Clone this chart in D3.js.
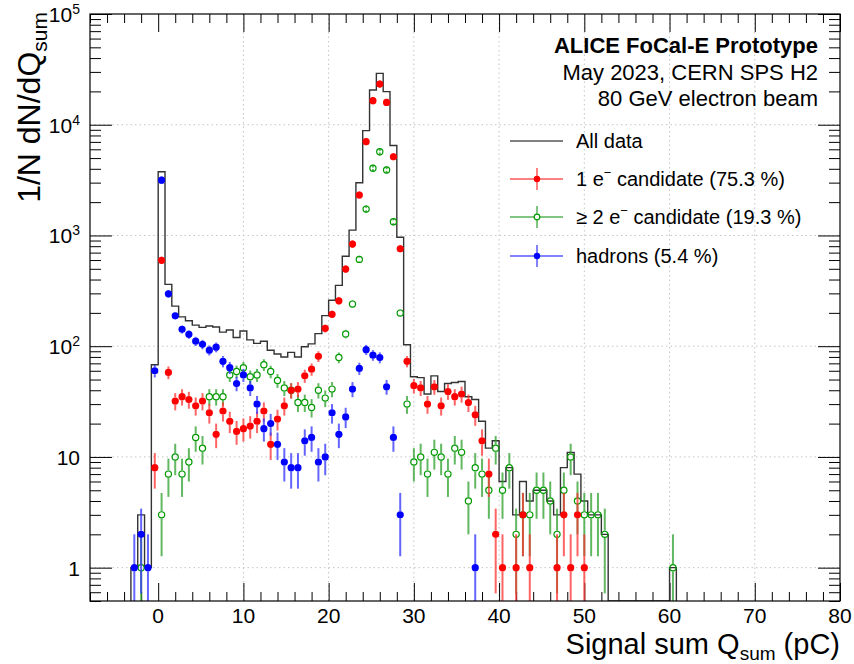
<!DOCTYPE html>
<html>
<head>
<meta charset="utf-8">
<script src="https://cdn.jsdelivr.net/npm/d3@7"></script>
<style>
  body { margin: 0; background: #fff; }
  svg { font-family: "Liberation Sans", Arial, Helvetica, sans-serif; }
</style>
</head>
<body>
<svg id="chart" width="854" height="664"></svg>
<script>
// bin centres (pC), bin width 0.8
const binWidth = 0.8
const binCenters = [-2.8,-2.0,-1.2,-0.4,0.4,1.2,2.0,2.8,3.6,4.4,5.2,6.0,6.8,7.6,8.4,9.2,10.0,10.8,11.6,12.4,
  13.2,14.0,14.8,15.6,16.4,17.2,18.0,18.8,19.6,20.4,21.2,22.0,22.8,23.6,24.4,25.2,26.0,26.8,27.6,28.4,
  29.2,30.0,30.8,31.6,32.4,33.2,34.0,34.8,35.6,36.4,37.2,38.0,38.8,39.6,40.4,41.2,42.0,42.8,43.6,44.4,
  45.2,46.0,46.8,47.6,48.4,49.2,50.0,50.8,51.6,52.4,53.2,54.0,54.8,55.6,56.4,57.2,58.0,58.8,59.6,60.4]

const allData = [1,3,1,68,3760,362,230,184,170,155,148,152,149,134,140,120,137,114,106,111,
  92,85,80,88,80,99,105,130,189,260,354,650,1118,2990,8850,20600,29100,19900,6500,965,
  103,53,52,37,54,39,46,47,48,35,33,21,12,14,6,8,3,6,4,5,
  5,4,3,8,11,7,4,3,3,2,0,0,0,0,0,0,0,0,0,1]

const oneElectron = [null,null,null,8,596,58,32,35,33,29,32,25,16,26,21,17,18,19,21,26,
  13,22,29,40,41,54,62,81,145,194,257,497,836,2320,7030,16500,23300,15900,5140,759,
  73,44,42,30,43,29,39,35,37,31,24,14,7,2,1,null,1,3,1,null,
  null,null,1,3,1,3,1,null,null,null,null,null,null,null,null,null,null,null,null,null]

const twoElectron = [null,1,null,null,3,7,10,7,9,15,12,35,35,35,55,59,64,53,55,68,
  59,49,42,40,31,31,28,40,34,41,79,129,240,608,1730,4040,5700,3900,1330,199,
  30,9,10,7,11,10,7,12,11,4,8,7,5,12,5,8,2,3,3,5,
  5,4,2,5,10,4,3,3,3,2,null,null,null,null,null,null,null,null,null,1]

const hadrons = [1,2,1,60,3160,297,188,142,128,111,104,92,98,73,64,46,55,42,30,18,
  20,13,9,8,8,14,15,9,10,25,16,23,41,63,93,83,79,43,15,3,
  null,null,null,null,null,null,null,null,null,null,1,null,null,null,null,null,null,null,null,null,
  null,null,null,null,null,null,null,null,null,null,null,null,null,null,null,null,null,null,null,null]

const xTicks = [0, 10, 20, 30, 40, 50, 60, 70, 80]
const yTicks = [1, 10, 100, 1000, 10000, 100000]
const yTickBase = ["1", "10", "10", "10", "10", "10"]
const yTickExp = ["", "", "2", "3", "4", "5"]

const legendLabels = ["All data", "1 e", "\u2265 2 e", "hadrons (5.4 %)"]

const width = 854, height = 664
const frame = { left: 90, right: 840, top: 14, bottom: 601 }

const svg = d3.select("#chart")

const x = d3.scaleLinear().domain([-8, 80]).range([frame.left, frame.right])
const y = d3.scaleLog().domain([0.5, 1e5]).range([frame.bottom, frame.top])
const yMin = y.domain()[0]

svg.append("defs").append("clipPath").attr("id", "frameClip")
  .append("rect")
    .attr("x", frame.left).attr("y", frame.top)
    .attr("width", frame.right - frame.left)
    .attr("height", frame.bottom - frame.top)

// grid
const grid = svg.append("g")
  .attr("stroke", "#c4c4c4").attr("stroke-dasharray", "1.5,3").attr("stroke-width", 1)
grid.selectAll(".gx").data(xTicks.slice(1, -1)).enter().append("line")
  .attr("x1", d => x(d)).attr("x2", d => x(d))
  .attr("y1", frame.top).attr("y2", frame.bottom)
grid.selectAll(".gy").data(yTicks.slice(0, -1)).enter().append("line")
  .attr("y1", d => y(d)).attr("y2", d => y(d))
  .attr("x1", frame.left).attr("x2", frame.right)

// axes: ticks pointing inside the frame on all four sides
const minorX = d3.range(-8, 81, 2).filter(d => d % 10 != 0)
const minorY = y.ticks().filter(d => !yTicks.includes(d))

function tickAxis(axis, offset, horizontal) {
  const g = svg.append("g")
    .attr("transform", horizontal ? `translate(0,${offset})` : `translate(${offset},0)`)
    .call(axis)
  g.select(".domain").remove()
  g.selectAll("line").attr("stroke", "#000").attr("stroke-width", 1)
  g.selectAll("text").remove()
  return g
}

tickAxis(d3.axisBottom(x).tickValues(xTicks).tickSize(-18), frame.bottom, true)
tickAxis(d3.axisBottom(x).tickValues(minorX).tickSize(-9), frame.bottom, true)
tickAxis(d3.axisTop(x).tickValues(xTicks).tickSize(-18), frame.top, true)
tickAxis(d3.axisTop(x).tickValues(minorX).tickSize(-9), frame.top, true)
tickAxis(d3.axisLeft(y).tickValues(yTicks).tickSize(-22), frame.left, false)
tickAxis(d3.axisLeft(y).tickValues(minorY).tickSize(-11), frame.left, false)
tickAxis(d3.axisRight(y).tickValues(yTicks).tickSize(-22), frame.right, false)
tickAxis(d3.axisRight(y).tickValues(minorY).tickSize(-11), frame.right, false)

// tick labels
svg.append("g").selectAll("text").data(xTicks).enter().append("text")
  .attr("x", d => x(d)).attr("y", 623)
  .attr("text-anchor", "middle").attr("font-size", 21)
  .text(d => d)

const yLab = svg.append("g").selectAll("text").data(yTicks).enter().append("text")
  .attr("x", 80).attr("y", d => y(d) + 8)
  .attr("text-anchor", "end").attr("font-size", 21)
yLab.append("tspan").text((d, i) => yTickBase[i])
yLab.append("tspan").attr("dy", -8).attr("font-size", 14).text((d, i) => yTickExp[i])

// All data histogram (step outline)
const histPoints = []
binCenters.forEach((c, i) => {
  const v = Math.max(allData[i], yMin)
  histPoints.push([c - binWidth / 2, v], [c + binWidth / 2, v])
})
const first = binCenters[0] - binWidth / 2
const last = binCenters[binCenters.length - 1] + binWidth / 2
histPoints.unshift([first, yMin])
histPoints.push([last, yMin])

const plot = svg.append("g").attr("clip-path", "url(#frameClip)")

plot.append("path")
  .datum(histPoints)
  .attr("fill", "none")
  .attr("stroke", "#333")
  .attr("stroke-width", 1.4)
  .attr("d", d3.line().x(d => x(d[0])).y(d => y(d[1])))

// data points with sqrt(N) error bars
const series = [
  { values: twoElectron, color: "#009a00", bar: "#2ca02c", open: true },
  { values: oneElectron, color: "#ff0000", bar: "#ff3030", open: false },
  { values: hadrons, color: "#0000ff", bar: "#3030ff", open: false },
]
const r = 3.6

series.forEach(s => {
  const pts = binCenters.map((c, i) => ({ c, v: s.values[i] })).filter(d => d.v != null && d.v > 0)
  const g = plot.append("g")
  g.selectAll(".up").data(pts).enter().append("line")
    .attr("x1", d => x(d.c)).attr("x2", d => x(d.c))
    .attr("y1", d => y(d.v + Math.sqrt(d.v))).attr("y2", d => y(d.v) - r)
    .attr("stroke", s.bar).attr("stroke-width", 2).attr("stroke-opacity", 0.75)
  g.selectAll(".down").data(pts).enter().append("line")
    .attr("x1", d => x(d.c)).attr("x2", d => x(d.c))
    .attr("y1", d => y(d.v) + r)
    .attr("y2", d => y(Math.max(d.v - Math.sqrt(d.v), yMin)))
    .attr("stroke", s.bar).attr("stroke-width", 2).attr("stroke-opacity", 0.75)
  g.selectAll("circle").data(pts).enter().append("circle")
    .attr("cx", d => x(d.c)).attr("cy", d => y(d.v))
    .attr("r", s.open ? r - 0.5 : r)
    .attr("fill", s.open ? "none" : s.color)
    .attr("stroke", s.color).attr("stroke-width", s.open ? 1.2 : 0)
})

// frame
svg.append("rect")
  .attr("x", frame.left).attr("y", frame.top)
  .attr("width", frame.right - frame.left).attr("height", frame.bottom - frame.top)
  .attr("fill", "none").attr("stroke", "#000").attr("stroke-width", 1.2)

// axis titles
const yTitle = svg.append("text")
  .attr("transform", "translate(40,12) rotate(-90)")
  .attr("text-anchor", "end").attr("font-size", 32)
yTitle.append("tspan").text("1/N dN/dQ")
yTitle.append("tspan").attr("dy", 7).attr("font-size", 21).text("sum")

const xTitle = svg.append("text")
  .attr("x", frame.right).attr("y", 654)
  .attr("text-anchor", "end").attr("font-size", 29)
xTitle.append("tspan").text("Signal sum Q")
xTitle.append("tspan").attr("dy", 6).attr("font-size", 19).text("sum")
xTitle.append("tspan").attr("dy", -6).text(" (pC)")

// header text
const header = [
  { t: "ALICE FoCal-E Prototype", y: 53, w: "bold" },
  { t: "May 2023, CERN SPS H2", y: 80, w: "normal" },
  { t: "80 GeV electron beam", y: 106, w: "normal" },
]
svg.append("g").selectAll("text").data(header).enter().append("text")
  .attr("x", 818).attr("y", d => d.y)
  .attr("text-anchor", "end").attr("font-size", 22)
  .attr("font-weight", d => d.w)
  .text(d => d.t)

// legend
const legY = [141, 179, 217, 256]
const leg = svg.append("g")
leg.append("line").attr("x1", 510).attr("x2", 563).attr("y1", legY[0]).attr("y2", legY[0])
  .attr("stroke", "#000").attr("stroke-width", 1)
const legSeries = [series[1], series[0], series[2]]
legSeries.forEach((s, i) => {
  const ly = legY[i + 1]
  leg.append("line").attr("x1", 510).attr("x2", 563).attr("y1", ly).attr("y2", ly)
    .attr("stroke", s.bar).attr("stroke-width", 1.5).attr("stroke-opacity", 0.8)
  leg.append("line").attr("x1", 537).attr("x2", 537).attr("y1", ly - 11).attr("y2", ly + 11)
    .attr("stroke", s.bar).attr("stroke-width", 1.5).attr("stroke-opacity", 0.8)
  leg.append("circle").attr("cx", 537).attr("cy", ly).attr("r", s.open ? 2.8 : 3.2)
    .attr("fill", s.open ? "#fff" : s.color).attr("stroke", s.color).attr("stroke-width", s.open ? 1.2 : 0)
})
const legText = leg.selectAll("text").data(legendLabels).enter().append("text")
  .attr("x", 576).attr("y", (d, i) => legY[i] + 7)
  .attr("font-size", 20)
legText.append("tspan").text(d => d)
legText.filter((d, i) => i == 1 || i == 2).append("tspan")
  .attr("dy", -9).attr("font-size", 13).text("\u2212")
legText.filter((d, i) => i == 1).append("tspan").attr("dy", 9).text(" candidate (75.3 %)")
legText.filter((d, i) => i == 2).append("tspan").attr("dy", 9).text(" candidate (19.3 %)")
</script>
</body>
</html>
